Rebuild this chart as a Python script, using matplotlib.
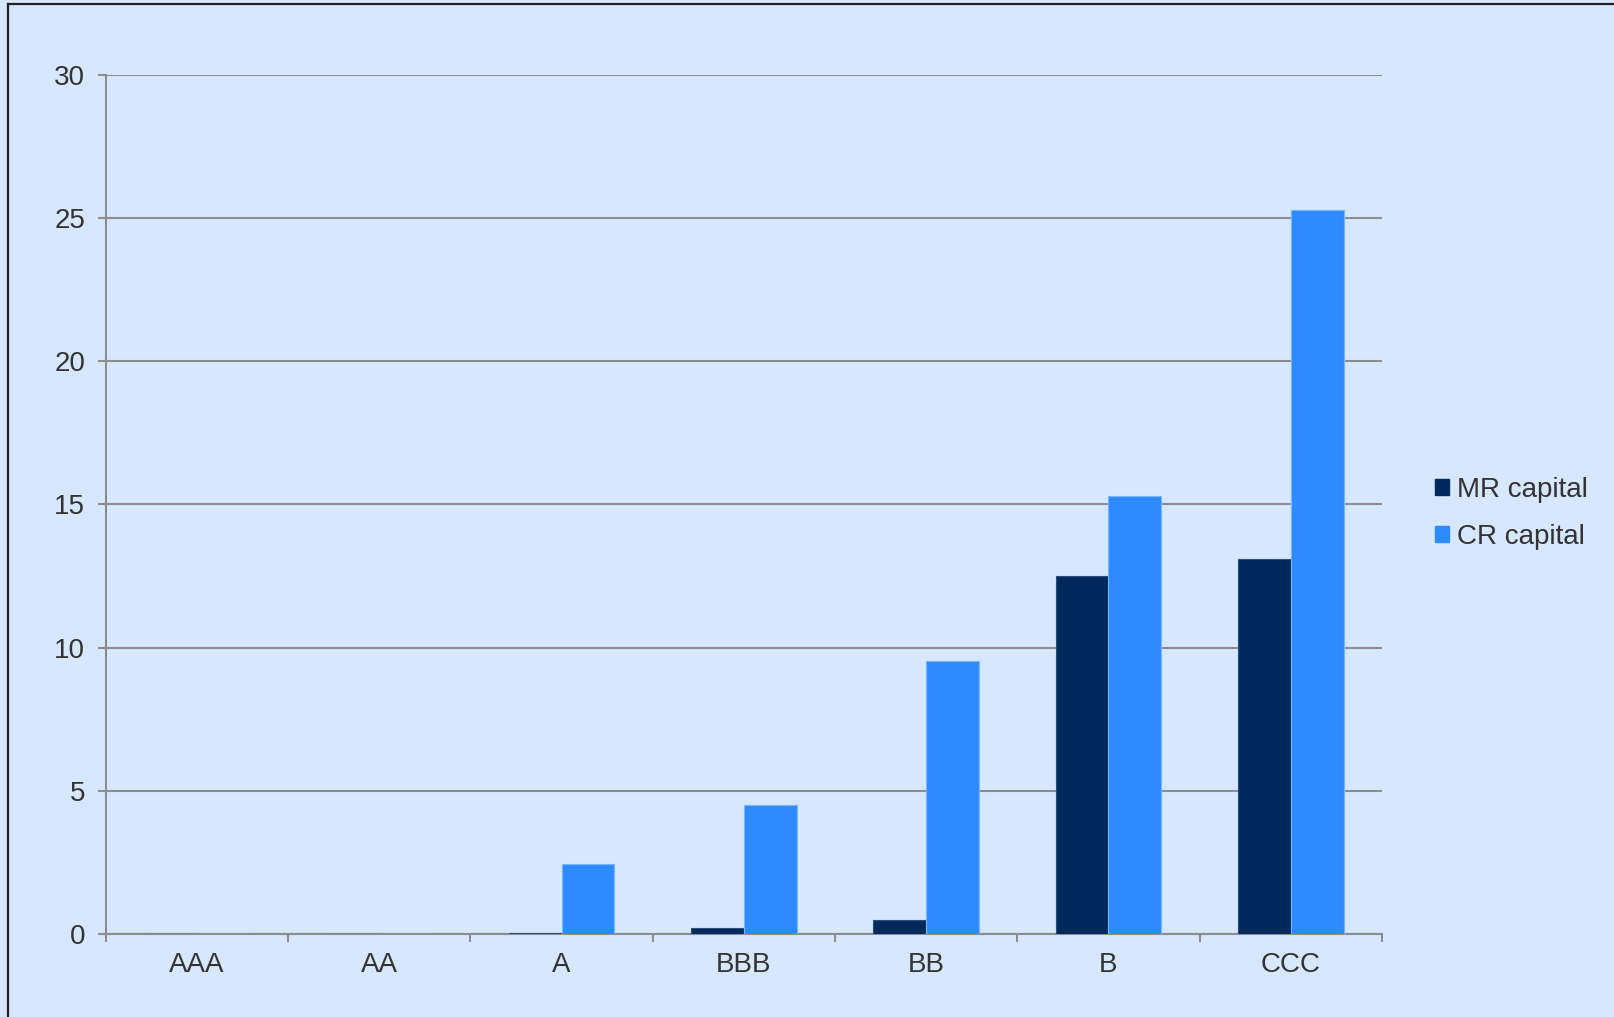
import numpy as np
import matplotlib.pyplot as plt
from matplotlib.patches import Patch
from matplotlib.lines import Line2D

plt.rcParams['font.family'] = ['Liberation Sans', 'DejaVu Sans']

ratings = ['AAA', 'AA', 'A', 'BBB', 'BB', 'B', 'CCC']
mr_capital = [0.0, 0.0, 0.05, 0.2, 0.5, 12.5, 13.1]
cr_capital = [0.0, 0.0, 2.45, 4.5, 9.55, 15.3, 25.3]

bg = '#d6e7ff'
dark = '#002a5c'
light = '#2e8bff'
grid = '#8c8c8c'
txt = '#333333'

fig = plt.figure(figsize=(16.15, 10.17), dpi=100, facecolor=bg)
ax = fig.add_axes([0.0656, 0.0816, 0.79, 0.8447], facecolor=bg)

x = np.arange(len(ratings))
w = 0.29
ax.bar(x - w/2, mr_capital, w, color=dark, edgecolor='#2a4f7a', linewidth=0.8, zorder=3)
ax.bar(x + w/2, cr_capital, w, color=light, edgecolor='#7ab4ff', linewidth=0.8, zorder=3)

ax.set_xlim(-0.5, len(ratings) - 0.5)
ax.set_ylim(0, 30)
ax.set_yticks(np.arange(0, 31, 5))
ax.yaxis.grid(True, color=grid, linewidth=1.5, zorder=0)
ax.set_axisbelow(True)

ax.set_xticks(x)
ax.set_xticklabels(ratings)
ax.set_xticks(np.arange(-0.5, len(ratings)), minor=True)
ax.tick_params(axis='x', which='major', length=0, pad=13, labelsize=20, labelcolor=txt)
ax.tick_params(axis='x', which='minor', length=6, width=1.5, color=grid, direction='out')
ax.tick_params(axis='y', length=6, width=1.5, color=grid, pad=9, labelsize=20, labelcolor=txt)

for s in ['top', 'right']:
    ax.spines[s].set_visible(False)
for s in ['left', 'bottom']:
    ax.spines[s].set_color(grid)
    ax.spines[s].set_linewidth(1.5)

handles = [Patch(color=dark, label='MR capital'), Patch(color=light, label='CR capital')]
fig.legend(handles=handles, loc='center left', bbox_to_anchor=(0.873, 0.495),
           frameon=False, fontsize=20, handlelength=0.5, handleheight=0.5,
           handletextpad=0.3, labelspacing=0.75, labelcolor=txt)

# outer frame (left and top edges only visible)
fig.add_artist(Line2D([8/1615, 8/1615], [0, 1 - 4/1017], transform=fig.transFigure, color='#222222', linewidth=1.6))
fig.add_artist(Line2D([8/1615, 1], [1 - 4/1017, 1 - 4/1017], transform=fig.transFigure, color='#222222', linewidth=1.6))

fig.savefig('out.png', dpi=100, facecolor=bg)
